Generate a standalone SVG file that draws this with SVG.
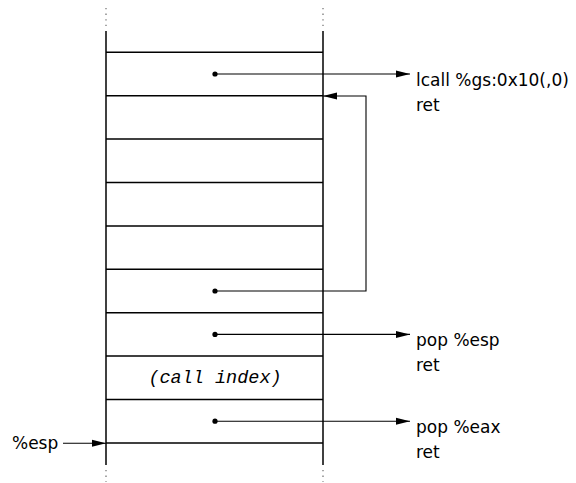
<svg xmlns="http://www.w3.org/2000/svg" width="576" height="483" viewBox="0 0 576 483">
  <style>
    .frame { stroke: #000; stroke-width: 1.5; fill: none; }
    .dots { stroke: #777; stroke-width: 1.3; stroke-dasharray: 1.3 4.3; fill: none; }
    .wire { stroke: #000; stroke-width: 1.1; fill: none; }
    .pin { fill: #000; }
    .lbl { font-family: "DejaVu Sans", sans-serif; font-size: 17px; fill: #000; }
    .mono { font-family: "Liberation Mono", "DejaVu Sans Mono", monospace; font-style: italic; font-size: 18.5px; fill: #000; }
  </style>
  <defs>
    <marker id="tip" viewBox="0 0 14 8" refX="14" refY="4" markerWidth="14" markerHeight="8" markerUnits="userSpaceOnUse" orient="auto">
      <path d="M0,0.5 L14,4 L0,7.5 Z" fill="#000"/>
    </marker>
  </defs>

  <!-- stack frame -->
  <g id="stack">
    <line class="dots" x1="106" y1="8" x2="106" y2="27"/>
    <line class="dots" x1="323" y1="8" x2="323" y2="27"/>
    <line class="dots" x1="106" y1="470" x2="106" y2="482"/>
    <line class="dots" x1="323" y1="470" x2="323" y2="482"/>
    <line class="frame" x1="106" y1="31" x2="106" y2="465"/>
    <line class="frame" x1="323" y1="31" x2="323" y2="465"/>
    <line class="frame" x1="106" y1="52.3" x2="323" y2="52.3"/>
    <line class="frame" x1="106" y1="95.7" x2="323" y2="95.7"/>
    <line class="frame" x1="106" y1="139.1" x2="323" y2="139.1"/>
    <line class="frame" x1="106" y1="182.5" x2="323" y2="182.5"/>
    <line class="frame" x1="106" y1="225.9" x2="323" y2="225.9"/>
    <line class="frame" x1="106" y1="269.3" x2="323" y2="269.3"/>
    <line class="frame" x1="106" y1="312.7" x2="323" y2="312.7"/>
    <line class="frame" x1="106" y1="356.1" x2="323" y2="356.1"/>
    <line class="frame" x1="106" y1="399.5" x2="323" y2="399.5"/>
    <line class="frame" x1="106" y1="442.9" x2="323" y2="442.9"/>
  </g>

  <g id="slot-index">
    <text class="mono" x="215" y="383" text-anchor="middle">(call index)</text>
  </g>

  <g id="gadget-lcall">
    <text class="lbl" x="416" y="85.5">lcall %gs:0x10(,0)</text>
    <text class="lbl" x="416" y="110.5">ret</text>
  </g>
  <g id="gadget-popesp">
    <text class="lbl" x="416" y="346">pop %esp</text>
    <text class="lbl" x="416" y="371">ret</text>
  </g>
  <g id="gadget-popeax">
    <text class="lbl" x="416" y="432.7">pop %eax</text>
    <text class="lbl" x="416" y="457.7">ret</text>
  </g>
  <g id="esp-label">
    <text class="lbl" x="12" y="448.5">%esp</text>
  </g>

  <!-- connectors -->
  <g id="connectors">
    <circle class="pin" cx="215" cy="74" r="2.6"/>
    <line class="wire" x1="215" y1="74" x2="410" y2="74" marker-end="url(#tip)"/>
    <circle class="pin" cx="215" cy="291" r="2.6"/>
    <polyline class="wire" points="215,291 366,291 366,96 323,96" marker-end="url(#tip)"/>
    <circle class="pin" cx="215" cy="334.4" r="2.6"/>
    <line class="wire" x1="215" y1="334.4" x2="410" y2="334.4" marker-end="url(#tip)"/>
    <circle class="pin" cx="215" cy="421.2" r="2.6"/>
    <line class="wire" x1="215" y1="421.2" x2="410" y2="421.2" marker-end="url(#tip)"/>
    <line class="wire" x1="63" y1="443.3" x2="106" y2="443.3" marker-end="url(#tip)"/>
  </g>
</svg>
